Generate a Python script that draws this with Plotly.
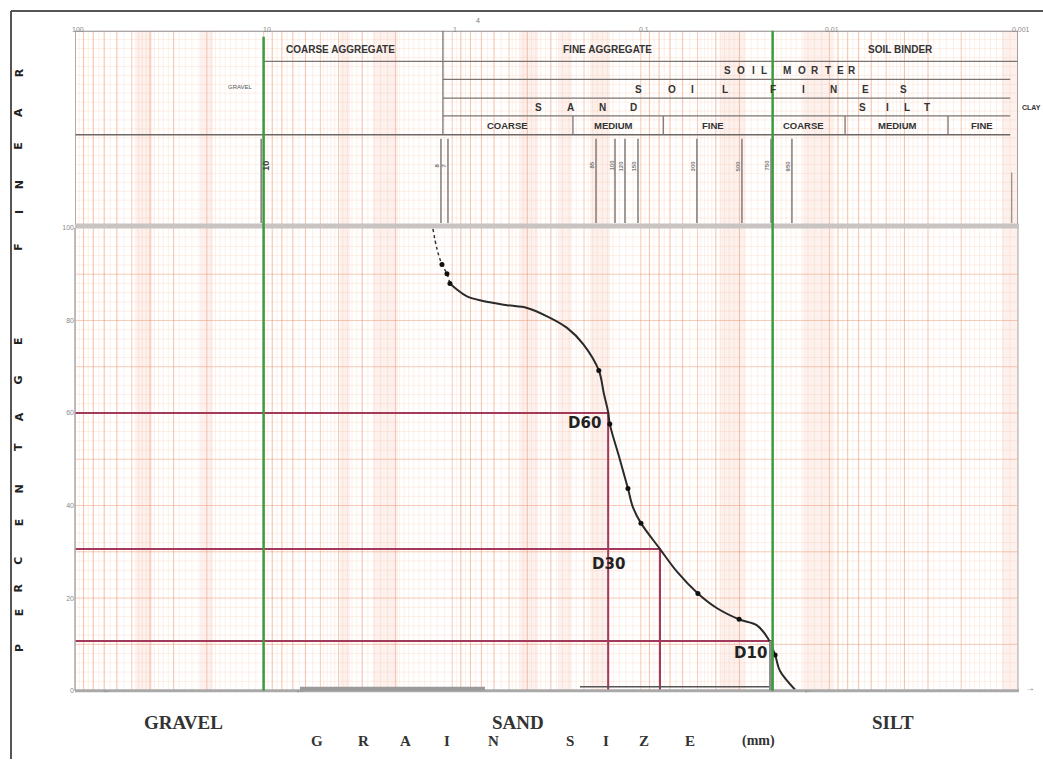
import numpy as np
import plotly.graph_objects as go

# ---------------- data ----------------
curve_size = [1.265, 1.205, 1.133, 1.066, 1.028, 0.944, 0.835, 0.687, 0.512, 0.401,
              0.314, 0.246, 0.202, 0.167, 0.157, 0.149, 0.146, 0.129, 0.117,
              0.110, 0.0998, 0.0791, 0.0643, 0.0498, 0.0394, 0.0301, 0.0242, 0.0212,
              0.0194, 0.0183, 0.0152]
curve_pct = [99.8, 95.5, 92.1, 90.1, 88.0, 86.7, 85.2, 84.2, 83.3, 82.7,
             80.9, 78.4, 74.9, 69.2, 64.2, 60.2, 57.6, 49.9, 43.7,
             39.6, 36.2, 30.6, 25.7, 21.0, 17.8, 15.4, 14.1, 11.3,
             7.7, 4.3, 0.2]
dashed_count = 5

point_size = [1.133, 1.066, 1.028, 0.167, 0.146, 0.117, 0.0998, 0.0498, 0.0301, 0.0194]
point_pct = [92.1, 90.1, 88.0, 69.2, 57.6, 43.7, 36.2, 21.0, 15.4, 7.7]

d_labels = ["D60", "D30", "D10"]
d_pct = [60.0, 30.6, 10.7]
d_size = [0.149, 0.0791, 0.0204]

boundary_sizes = [10, 0.02]          # green lines
sieve_sizes = [10.3, 1.147, 1.053, 0.1728, 0.137, 0.1213, 0.1035, 0.0504, 0.0291, 0.0204, 0.0158]
sieve_labels = ["10", "8", "7", "85", "100", "120", "150", "300", "500", "750", "950"]

top_tick_vals = [100, 10, 1, 0.1, 0.01, 0.001]
top_tick_text = ["100", "10", "1", "0.1", "0.01", "0.001"]
y_ticks = [0, 20, 40, 60, 80, 100]

W, H = 1043, 762
def PX(x):
    return x / W
def PY(y):
    return 1 - y / H

fig = go.Figure()

# ---------------- graph-paper grid ----------------
decades = [0.001, 0.01, 0.1, 1, 10]
major_v = [m * d for d in decades for m in range(1, 10)] + [100]
minor_v = []
for d in decades:
    minor_v += [d * v for v in np.arange(1.1, 2.0, 0.1)]
    minor_v += [d * v for v in np.arange(2.2, 5.0, 0.2)]
    minor_v += [d * v for v in np.arange(5.5, 10.0, 0.5)]

def vgrid(vals, y0, y1):
    xs, ys = [], []
    for v in vals:
        xs += [v, v, None]
        ys += [y0, y1, None]
    return xs, ys

def hgrid(vals, x0, x1):
    xs, ys = [], []
    for v in vals:
        xs += [x0, x1, None]
        ys += [v, v, None]
    return xs, ys

minor_col = "rgba(244,170,130,0.25)"
major_col = "rgba(236,140,95,0.45)"

def add_lines(xs, ys, color, width, xa="x", ya="y"):
    fig.add_trace(go.Scatter(x=xs, y=ys, mode="lines", line=dict(color=color, width=width),
                             hoverinfo="skip", showlegend=False, xaxis=xa, yaxis=ya))

# main plot grid
add_lines(*vgrid(minor_v, 0, 100), minor_col, 0.7)
add_lines(*hgrid([v for v in range(0, 101, 2) if v % 10], 100, 0.001), minor_col, 0.7)
add_lines(*vgrid(major_v, 0, 100), major_col, 1)
add_lines(*hgrid(list(range(10, 100, 10)), 100, 0.001), major_col, 1)

# header grid
add_lines(*vgrid(minor_v, 27, 222), minor_col, 0.7, "x2", "y2")
add_lines(*vgrid(major_v, 27, 222), major_col, 1, "x2", "y2")
add_lines(*hgrid(list(np.arange(36, 222, 9)), 100, 0.001), minor_col, 0.7, "x2", "y2")

# header sieve marks
add_lines(*vgrid(sieve_sizes, 136, 221), "#8a8380", 1.6, "x2", "y2")

# ---------------- D lines ----------------
for lab, p, s in zip(d_labels, d_pct, d_size):
    add_lines([100, s, s], [p, p, 0], "#a33a5c", 2)

# ---------------- curve ----------------
fig.add_trace(go.Scatter(x=curve_size[:dashed_count], y=curve_pct[:dashed_count], mode="lines",
                         line=dict(color="#333", width=1.5, dash="dot", shape="spline"),
                         showlegend=False, xaxis="x", yaxis="y"))
fig.add_trace(go.Scatter(x=curve_size[dashed_count - 1:], y=curve_pct[dashed_count - 1:], mode="lines",
                         line=dict(color="#2a2a2a", width=2, shape="spline", smoothing=1),
                         showlegend=False, xaxis="x", yaxis="y"))
fig.add_trace(go.Scatter(x=point_size, y=point_pct, mode="markers",
                         marker=dict(color="#111", size=5),
                         showlegend=False, xaxis="x", yaxis="y"))

shapes = []
# pinkish printed bands
bands = [(136, 152), (200, 213), (340, 350), (373, 398), (520, 538), (558, 572),
         (590, 610), (720, 745), (803, 833), (1002, 1018)]
for a, b in bands:
    shapes.append(dict(type="rect", xref="paper", yref="paper", x0=PX(a), x1=PX(b),
                       y0=PY(693), y1=PY(27), fillcolor="rgba(240,150,125,0.13)",
                       line=dict(width=0), layer="below"))

tbl = dict(color="#7d7470", width=1.3)
def hline(x0, x1, y, line=tbl):
    shapes.append(dict(type="line", xref="x2", yref="y2", x0=x0, x1=x1, y0=y, y1=y, line=line))
def vline(x, y0, y1, line=tbl):
    shapes.append(dict(type="line", xref="x2", yref="y2", x0=x, x1=x, y0=y0, y1=y1, line=line))

hline(100, 0.001, 27, dict(color="#8f8a88", width=2))
hline(10, 0.001, 58)
hline(1.12, 0.0011, 76)
hline(1.12, 0.0011, 95)
hline(1.12, 0.0011, 113)
hline(100, 0.0011, 132, dict(color="#6f6764", width=1.6))
vline(1.12, 27, 132)
for xv in [0.229, 0.076, 0.00826, 0.00235]:
    vline(xv, 113, 132)
vline(100, 27, 222, dict(color="#9a9a9a", width=1.5))
vline(0.001, 27, 222, dict(color="#8f8a88", width=1.5))
vline(0.00108, 170, 221, dict(color="#8f8a88", width=1.2))

# band between header and plot
shapes.append(dict(type="line", xref="paper", yref="paper", x0=PX(75), x1=PX(1019),
                   y0=PY(224), y1=PY(224), line=dict(color="#c9c4c2", width=5)))
# plot borders
shapes.append(dict(type="line", xref="paper", yref="paper", x0=PX(75), x1=PX(75),
                   y0=PY(693), y1=PY(226), line=dict(color="#a8a8a8", width=1.5)))
shapes.append(dict(type="line", xref="paper", yref="paper", x0=PX(1018), x1=PX(1018),
                   y0=PY(693), y1=PY(226), line=dict(color="#b8b8b8", width=1.2)))
# bottom axis bar and range bars
shapes.append(dict(type="line", xref="paper", yref="paper", x0=PX(75), x1=PX(1019),
                   y0=PY(693), y1=PY(693), line=dict(color="#a9a9a9", width=3)))
shapes.append(dict(type="line", xref="paper", yref="paper", x0=PX(300), x1=PX(485),
                   y0=PY(691), y1=PY(691), line=dict(color="#9a9a9a", width=4)))
shapes.append(dict(type="line", xref="paper", yref="paper", x0=PX(580), x1=PX(770),
                   y0=PY(689), y1=PY(689), line=dict(color="#555", width=1.5)))
# D10 grey bar
shapes.append(dict(type="line", xref="x", yref="y", x0=d_size[2], x1=d_size[2],
                   y0=0, y1=d_pct[2], line=dict(color="#8d8d8d", width=4)))

# green boundary lines
for b, top in zip(boundary_sizes, [33, 27]):
    shapes.append(dict(type="line", xref="x", yref="paper", x0=b, x1=b,
                       y0=PY(693), y1=PY(top), line=dict(color="#3d9a3d", width=2.5)))

# outer frame
shapes.append(dict(type="line", xref="paper", yref="paper", x0=PX(11), x1=PX(11),
                   y0=0, y1=PY(7), line=dict(color="#555", width=2)))
shapes.append(dict(type="line", xref="paper", yref="paper", x0=PX(11), x1=1,
                   y0=PY(7), y1=PY(7), line=dict(color="#555", width=2)))

ann = []
def T(text, x, y, size=8, color="#333", family="Liberation Sans", bold=True, angle=0,
      xanchor="center"):
    ann.append(dict(text=("<b>%s</b>" % text) if bold else text, x=PX(x), y=PY(y),
                    xref="paper", yref="paper", showarrow=False, textangle=angle,
                    xanchor=xanchor, yanchor="middle",
                    font=dict(size=size, color=color, family=family)))

# top axis labels
for v, t in zip(top_tick_vals, top_tick_text):
    ann.append(dict(text=t, x=np.log10(v), y=PY(20), xref="x", yref="paper",
                    showarrow=False, xshift=3, font=dict(size=7, color="#8a8a8a",
                                                         family="Liberation Sans")))
T("4", 478, 17, size=7, color="#777", bold=False)

# header texts
T("COARSE AGGREGATE", 340, 46, size=10)
T("FINE AGGREGATE", 607, 46, size=10)
T("SOIL BINDER", 900, 46, size=10)
for ch, x in zip("SOILMORTER", [727, 741, 753, 764, 787, 802, 815, 828, 840, 852]):
    T(ch, x, 67, size=10)
for ch, x in zip("SOILFINES", [638, 672, 692, 725, 773, 803, 833, 865, 903]):
    T(ch, x, 86, size=10)
for ch, x in zip("SAND", [538, 570, 602, 633]):
    T(ch, x, 104, size=10)
for ch, x in zip("SILT", [862, 887, 907, 927]):
    T(ch, x, 104, size=10)
T("CLAY", 1020, 104, size=7, xanchor="left")
T("GRAVEL", 240, 84, size=6, color="#555", bold=False)
for t, x in zip(["COARSE", "MEDIUM", "FINE", "COARSE", "MEDIUM", "FINE"],
                [507, 613, 713, 803, 897, 982]):
    T(t, x, 123, size=9.5)

# sieve labels
for s, lab in zip(sieve_sizes, sieve_labels):
    big = lab == "10"
    ann.append(dict(text="<b>%s</b>" % lab, x=np.log10(s), y=163, xref="x2", yref="y2",
                    showarrow=False, textangle=-90, xshift=(4 if big else -4),
                    font=dict(size=9 if big else 6, color="#444" if big else "#777",
                              family="Liberation Sans")))

# D labels
for lab, x, y in zip(d_labels, [584, 608, 750], [423, 565, 655]):
    T(lab, x, y, size=15, color="#222", family="DejaVu Sans")

# left vertical title
letters = "PERCENTAGEFINEAR"
letter_y = [650, 614, 590, 562, 523, 490, 447, 417, 380, 340, 245, 210, 183, 143, 110, 70]
for ch, y in zip(letters, letter_y):
    T(ch, 19, y, size=11, color="#222", angle=-90, family="DejaVu Sans")

# bottom labels
T("GRAVEL", 183, 725, size=19, color="#333", family="Liberation Serif")
T("SAND", 518, 725, size=19, color="#333", family="Liberation Serif")
T("SILT", 893, 725, size=19, color="#333", family="Liberation Serif")
for ch, x in zip("GRAINSIZE", [317, 363, 405, 447, 493, 570, 606, 644, 690]):
    T(ch, x, 744, size=15, color="#333", family="Liberation Serif")
T("(mm)", 758, 744, size=14, color="#333", family="Liberation Serif")

# range arrows at bottom
for x in [107, 300, 808]:
    T("←", x, 692, size=10, color="#888", bold=False)
T("→", 1030, 690, size=10, color="#777", bold=False)

fig.update_layout(
    width=W, height=H, margin=dict(l=0, r=0, t=0, b=0),
    paper_bgcolor="white", plot_bgcolor="white",
    xaxis=dict(type="log", range=[2, -3], domain=[PX(75), PX(1018)], anchor="y",
               showgrid=False, showticklabels=False, zeroline=False, showline=False, ticks=""),
    xaxis2=dict(type="log", range=[2, -3], domain=[PX(75), PX(1018)], anchor="y2",
                matches="x", showgrid=False, showticklabels=False, zeroline=False,
                showline=False, ticks=""),
    yaxis=dict(domain=[PY(693), PY(226)], range=[0, 100], tickvals=y_ticks,
               tickfont=dict(size=7, color="#8a8a8a", family="Liberation Sans"),
               showgrid=False, zeroline=False, showline=False, ticks=""),
    yaxis2=dict(domain=[PY(222), PY(27)], range=[222, 27], showgrid=False,
                showticklabels=False, zeroline=False, showline=False, ticks=""),
    shapes=shapes, annotations=ann, showlegend=False,
)

fig.write_html("out.html", post_script="document.body.style.margin='0px';",
               config={"displayModeBar": False})
